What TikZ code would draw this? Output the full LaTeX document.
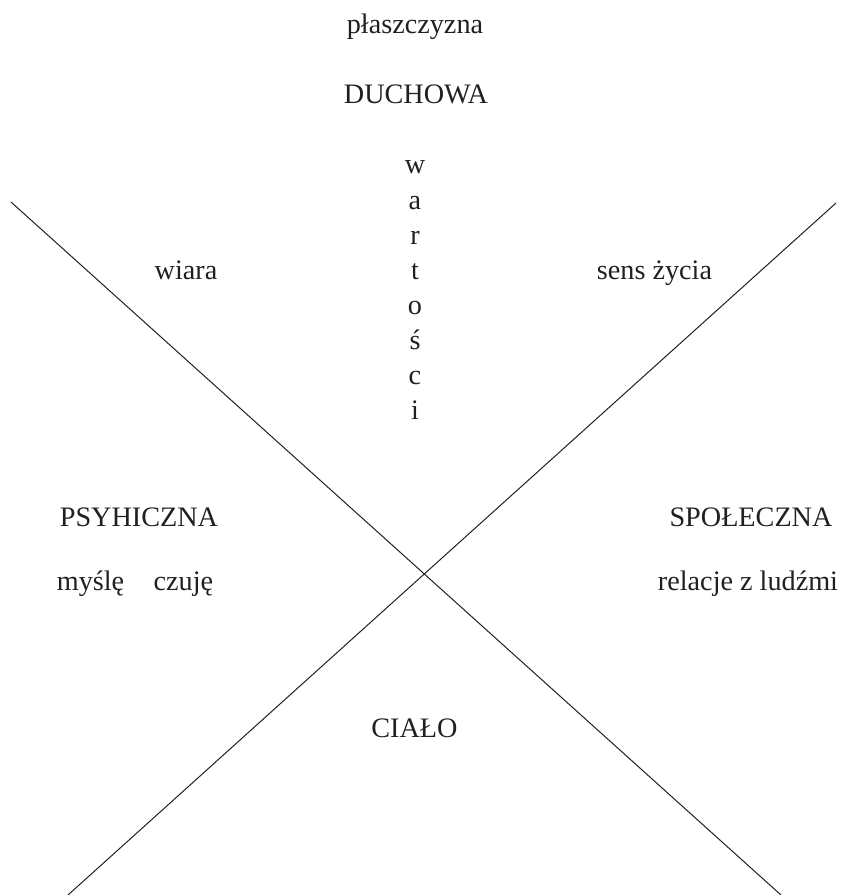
\documentclass[tikz,border=0pt]{standalone}
\usepackage{fontspec}
\setmainfont{Liberation Serif}
\definecolor{ink}{HTML}{231F20}
\begin{document}
\begin{tikzpicture}[x=1pt,y=-1pt,
  lbl/.style={anchor=base,inner sep=0pt,text=ink,font=\fontsize{28.2}{34}\selectfont},
  axisline/.style={draw=ink,line width=1pt}]
\useasboundingbox (0,0) rectangle (848,895);
% line end points
\coordinate (tl) at (11,202);
\coordinate (br) at (781,895);
\coordinate (tr) at (836,203);
\coordinate (bl) at (68,895);
\draw[axisline] (tl) -- (br);
\draw[axisline] (tr) -- (bl);
% top texts
\node[lbl] (plasz) at (415,33) {płaszczyzna};
\node[lbl] (duch) at (416,103) {DUCHOWA};
% vertical word
\node[lbl] (w1) at (415,173.5) {w};
\node[lbl] (w2) at (415,209) {a};
\node[lbl] (w3) at (415,244) {r};
\node[lbl] (w4) at (415,279) {t};
\node[lbl] (w5) at (415,314) {o};
\node[lbl] (w6) at (415,349) {ś};
\node[lbl] (w7) at (415,384) {c};
\node[lbl] (w8) at (415,419) {i};
% side texts
\node[lbl] (wiara) at (186,279) {wiara};
\node[lbl] (sens) at (654.5,279) {sens życia};
\node[lbl] (psy) at (139,526) {PSYHICZNA};
\node[lbl] (spol) at (751,526) {SPOŁECZNA};
\node[lbl] (mysle) at (135,590) {myślę\hspace{29.5pt}czuję};
\node[lbl] (rel) at (748,590) {relacje z ludźmi};
\node[lbl] (cialo) at (414.5,737) {CIAŁO};
\end{tikzpicture}
\end{document}
